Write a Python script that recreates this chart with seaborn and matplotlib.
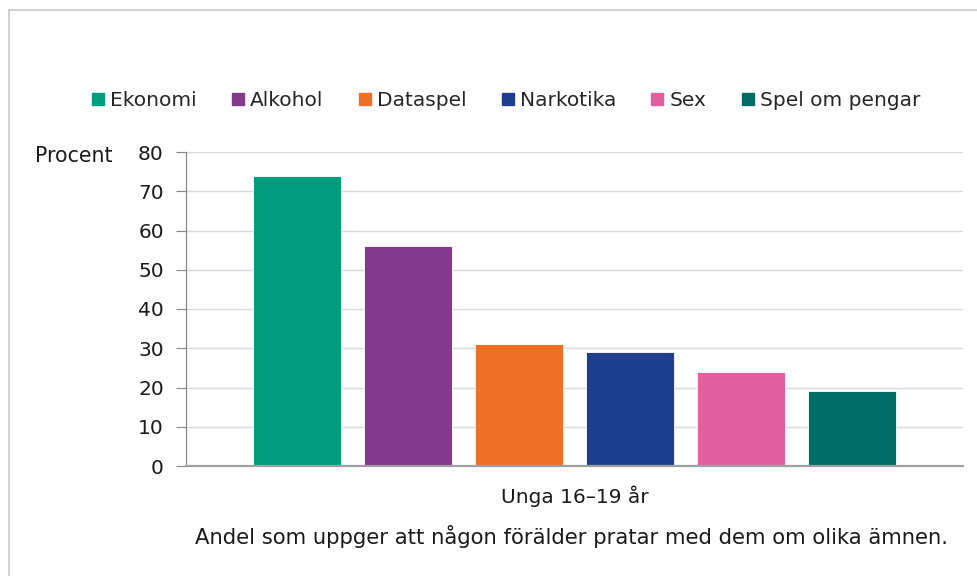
import matplotlib
matplotlib.use("Agg")
import matplotlib.pyplot as plt
import seaborn as sns
import pandas as pd
from matplotlib.lines import Line2D

group = ["Unga 16–19 år"]
categories = ["Ekonomi", "Alkohol", "Dataspel", "Narkotika", "Sex", "Spel om pengar"]
values = [74, 56, 31, 29, 24, 19]
colors = ["#009E7E", "#843A8C", "#EE7127", "#1E3F8F", "#E3609F", "#006D66"]
yticks = [0, 10, 20, 30, 40, 50, 60, 70, 80]
caption = "Andel som uppger att någon förälder pratar med dem om olika ämnen."

df = pd.DataFrame({"grupp": group * len(categories), "amne": categories, "procent": values})

sns.set_theme(style="white")
plt.rcParams['font.family'] = ['DejaVu Sans']

FS = 14.5
fig = plt.figure(figsize=(9.78, 5.76), dpi=100)
ax = fig.add_axes([186/978, 1-466/576, (963-186)/978, (466-152)/576])

sns.barplot(data=df, x="grupp", y="procent", hue="amne", hue_order=categories,
            palette=colors, width=0.857, gap=0.2, ax=ax, legend=False,
            edgecolor="white", linewidth=0.6, saturation=1)

ax.set_xlim(-0.5, 0.5)
ax.set_ylim(0, 80)
ax.set_yticks(yticks)
ax.set_yticklabels([str(t) for t in yticks], fontsize=FS, color="#1a1a1a")
ax.tick_params(axis="y", length=7, width=0.8, color="#888888", pad=9, left=True)
ax.tick_params(axis="x", length=0, pad=14, labelsize=FS, labelcolor="#1a1a1a")
ax.set_xlabel("")
ax.set_ylabel("")
ax.yaxis.grid(True, color="#d9d9d9", linewidth=1.0, linestyle="-")
ax.set_axisbelow(True)
for s in ["top", "right"]:
    ax.spines[s].set_visible(False)
ax.spines["left"].set_color("#888888")
ax.spines["left"].set_linewidth(0.9)
ax.spines["bottom"].set_color("#a0a0a0")
ax.spines["bottom"].set_linewidth(1.6)

fig.text(35/978, 1-156/576, "Procent", fontsize=FS + 0.3, color="#1a1a1a", va="center", ha="left")
fig.text(571/978, 1-537/576, caption, fontsize=15.2, color="#1a1a1a", va="center", ha="center")

handles = [Line2D([0], [0], marker="s", linestyle="none", markersize=9,
                  markerfacecolor=c, markeredgecolor=c) for c in colors]
fig.legend(handles, categories, loc="center", bbox_to_anchor=(504/978, 1-101/576),
           ncol=6, frameon=False, fontsize=FS, handletextpad=0.1, columnspacing=1.55,
           handlelength=1.0)

# outer frame (left and top edges visible)
fig.add_artist(Line2D([9/978, 9/978], [0, 1-10/576], transform=fig.transFigure,
                      color="#c8c8c8", linewidth=1.2))
fig.add_artist(Line2D([9/978, 1.0], [1-10/576, 1-10/576], transform=fig.transFigure,
                      color="#c8c8c8", linewidth=1.2))

fig.savefig("out.png", dpi=100)
